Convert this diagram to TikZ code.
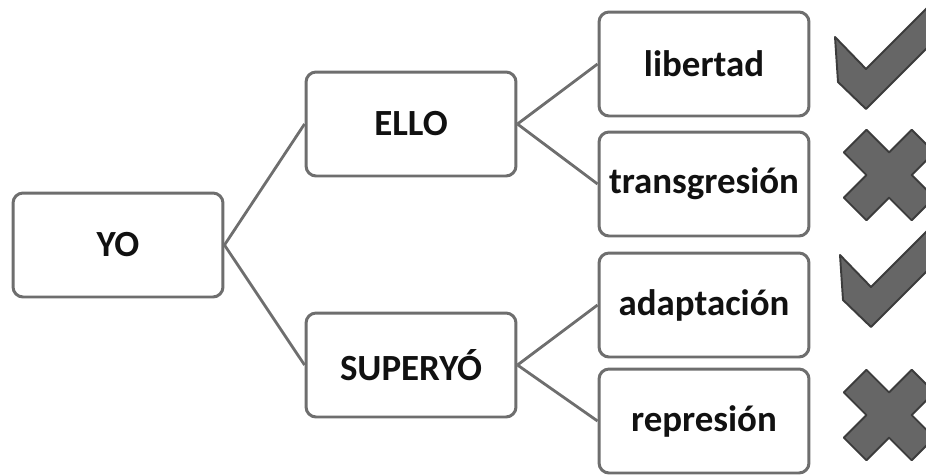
\documentclass[tikz,border=0pt]{standalone}
\usepackage{fontspec}
\setmainfont{Carlito}
\usepackage{tikz}
\usetikzlibrary{positioning}

\definecolor{borde}{HTML}{6E6E6E}
\definecolor{marcafondo}{HTML}{666666}
\definecolor{marcaborde}{HTML}{3C3C3C}
\definecolor{texto}{HTML}{111111}

\begin{document}
\begin{tikzpicture}[x=0.02cm, y=-0.02cm,
    caja/.style={draw=borde, line width=1.7pt, rounded corners=0.2cm, fill=white,
      minimum width=4.2cm, minimum height=2.08cm, text=texto,
      font=\fontsize{21}{25}\selectfont\bfseries},
    rama/.style={draw=borde, line width=1.6pt},
    marca/.style={fill=marcafondo, draw=marcaborde, line width=1.1pt, line join=round}]
  \useasboundingbox (0,0) rectangle (926,474);

  % Nodos
  \node[caja] (yo) at (118,245) {YO};
  \node[caja] (ello) at (411,124) {ELLO};
  \node[caja] (superyo) at (411,365) {SUPERYÓ};
  \node[caja] (libertad) at (704,64) {libertad};
  \node[caja] (transgresion) at (704,184) {transgresión};
  \node[caja] (adaptacion) at (704,305) {adaptación};
  \node[caja] (represion) at (704,421) {represión};

  % Aristas
  \draw[rama] (yo.east) -- (ello.west);
  \draw[rama] (yo.east) -- (superyo.west);
  \draw[rama] (ello.east) -- (libertad.west);
  \draw[rama] (ello.east) -- (transgresion.west);
  \draw[rama] (superyo.east) -- (adaptacion.west);
  \draw[rama] (superyo.east) -- (represion.west);

  % Marcas
  \filldraw[marca] (835,37) -- (866,69) -- (942,-7) -- (942,33) -- (866,109) -- (838,82) -- cycle;
  \filldraw[marca, shift={(5,218)}] (835,37) -- (866,69) -- (942,-7) -- (942,33) -- (866,109) -- (838,82) -- cycle;
  \filldraw[marca, shift={(889,175)}, rotate=45] (16,16) -- (48,16) -- (48,-16) -- (16,-16) -- (16,-48) -- (-16,-48) -- (-16,-16) -- (-48,-16) -- (-48,16) -- (-16,16) -- (-16,48) -- (16,48) -- cycle;
  \filldraw[marca, shift={(889,415)}, rotate=45] (16,16) -- (48,16) -- (48,-16) -- (16,-16) -- (16,-48) -- (-16,-48) -- (-16,-16) -- (-48,-16) -- (-48,16) -- (-16,16) -- (-16,48) -- (16,48) -- cycle;
\end{tikzpicture}
\end{document}
